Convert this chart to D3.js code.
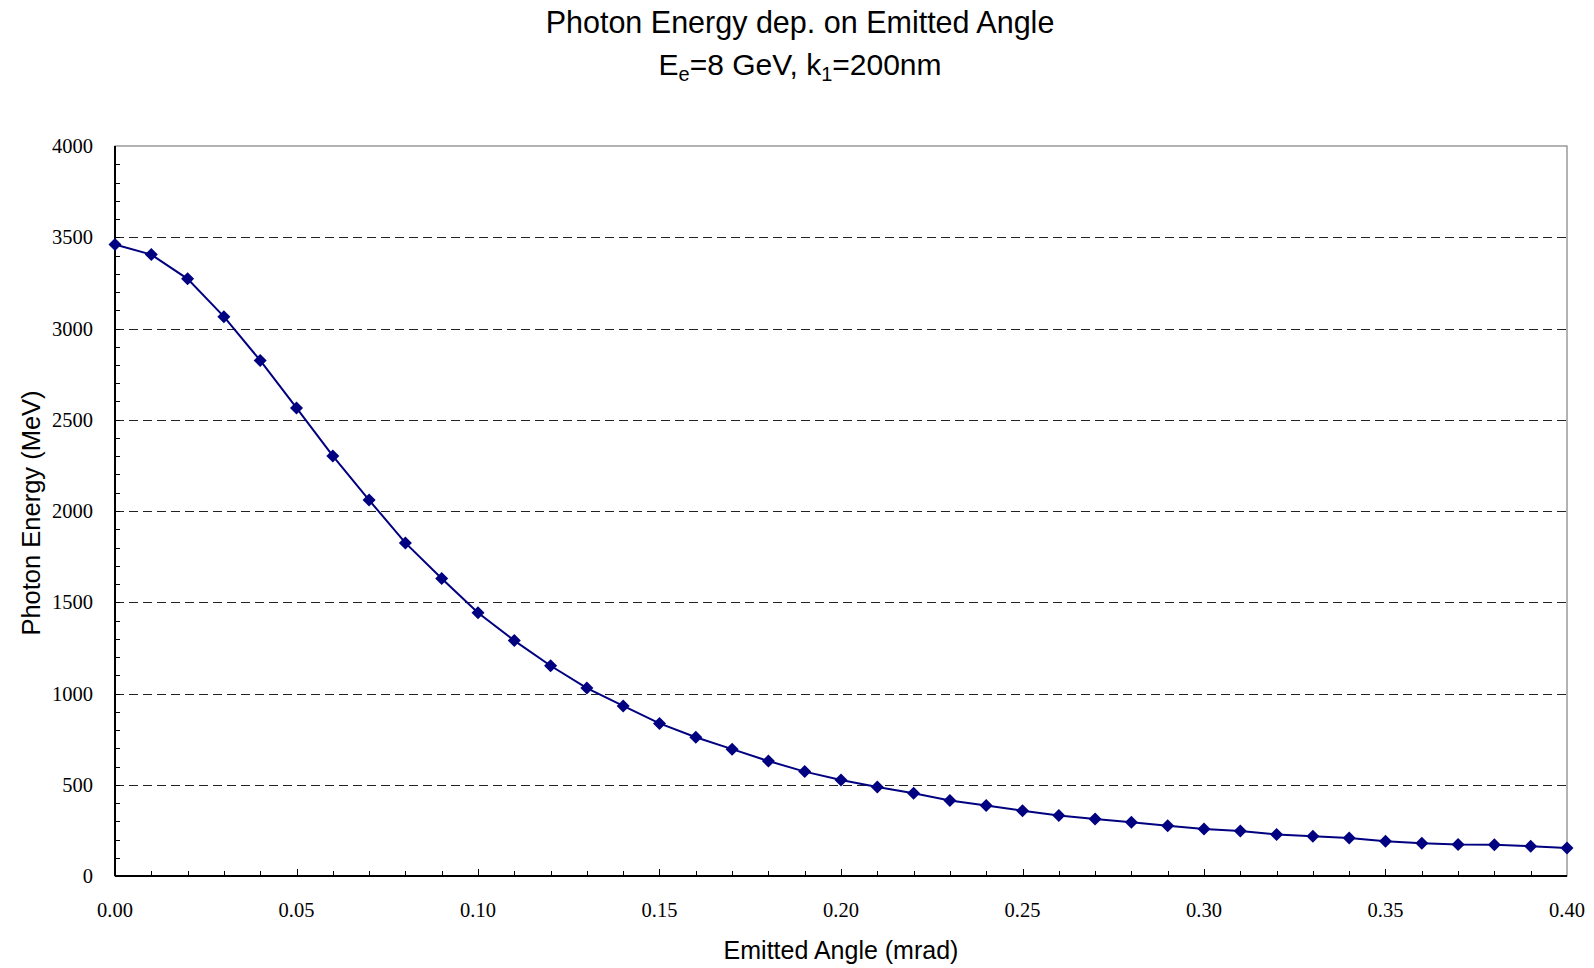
<!DOCTYPE html>
<html>
<head>
<meta charset="utf-8">
<script src="https://cdn.jsdelivr.net/npm/d3@7"></script>
<style>
  body { margin: 0; background: #fff; }
  svg { display: block; }
</style>
</head>
<body>
<div id="chart-area"></div>
<script>
// values
var angles = [0.00, 0.01, 0.02, 0.03, 0.04, 0.05, 0.06, 0.07, 0.08, 0.09,
              0.10, 0.11, 0.12, 0.13, 0.14, 0.15, 0.16, 0.17, 0.18, 0.19,
              0.20, 0.21, 0.22, 0.23, 0.24, 0.25, 0.26, 0.27, 0.28, 0.29,
              0.30, 0.31, 0.32, 0.33, 0.34, 0.35, 0.36, 0.37, 0.38, 0.39, 0.40];
var energy = [3460, 3405, 3272, 3065, 2825, 2565, 2302, 2060, 1825, 1630,
              1442, 1290, 1152, 1030, 932, 836, 760, 695, 630, 572,
              526, 488, 453, 414, 386, 358, 331, 312, 294, 275,
              258, 246, 228, 218, 208, 190, 180, 172, 171, 163, 153];
var yTicks = [0, 500, 1000, 1500, 2000, 2500, 3000, 3500, 4000];
var xTicks = [0.00, 0.05, 0.10, 0.15, 0.20, 0.25, 0.30, 0.35, 0.40];

var W = 1594, H = 968;
var margin = {top: 146, right: 27, bottom: 92, left: 115};
var width = W - margin.left - margin.right;
var height = H - margin.top - margin.bottom;

var svg = d3.select("#chart-area").append("svg")
	.attr("width", W)
	.attr("height", H);

// title
svg.append("text")
	.attr("x", 800)
	.attr("y", 33)
	.attr("text-anchor", "middle")
	.attr("font-family", "Liberation Sans, Arial, sans-serif")
	.attr("font-size", "30.5px")
	.style("fill", "black")
	.text("Photon Energy dep. on Emitted Angle");

var sub = svg.append("text")
	.attr("x", 800)
	.attr("y", 75)
	.attr("text-anchor", "middle")
	.attr("font-family", "Liberation Sans, Arial, sans-serif")
	.attr("font-size", "30px")
	.style("fill", "black");
sub.append("tspan").text("E");
sub.append("tspan").attr("font-size", "20px").attr("dy", 6).text("e");
sub.append("tspan").attr("dy", -6).text("=8 GeV, k");
sub.append("tspan").attr("font-size", "20px").attr("dy", 6).text("1");
sub.append("tspan").attr("dy", -6).text("=200nm");

var g = svg.append("g")
	.attr("transform", "translate(" + margin.left + ", " + margin.top + ")");

var x = d3.scaleLinear().domain([0, 0.4]).range([0, width]);
var y = d3.scaleLinear().domain([0, 4000]).range([height, 0]);

// frame (top/right)
g.append("rect")
	.attr("x", 0).attr("y", 0)
	.attr("width", width).attr("height", height)
	.attr("fill", "none")
	.attr("stroke", "#808080")
	.attr("stroke-width", 1.2);

// dashed gridlines
g.selectAll(".grid").data(yTicks.filter(function(d) { return d > 0 && d < 4000; }))
	.enter().append("line")
	.attr("class", "grid")
	.attr("x1", 0).attr("x2", width)
	.attr("y1", function(d) { return Math.round(y(d)) + 0.5; })
	.attr("y2", function(d) { return Math.round(y(d)) + 0.5; })
	.attr("stroke", "#222")
	.attr("stroke-width", 1)
	.attr("stroke-dasharray", "9,5");

// inner minor ticks
var yMinor = d3.range(100, 4000, 100);
g.selectAll(".ytick").data(yMinor)
	.enter().append("line")
	.attr("class", "ytick")
	.attr("x1", 0).attr("x2", 5)
	.attr("y1", function(d) { return Math.round(y(d)) + 0.5; })
	.attr("y2", function(d) { return Math.round(y(d)) + 0.5; })
	.attr("stroke", "#000")
	.attr("stroke-width", 1);

var xMinor = d3.range(1, 40, 1);
g.selectAll(".xtick").data(xMinor)
	.enter().append("line")
	.attr("class", "xtick")
	.attr("x1", function(d) { return Math.round(x(d / 100)) + 0.5; })
	.attr("x2", function(d) { return Math.round(x(d / 100)) + 0.5; })
	.attr("y1", height)
	.attr("y2", function(d) { return d % 5 === 0 ? height - 7 : height - 5; })
	.attr("stroke", "#000")
	.attr("stroke-width", 1);

// axis lines
g.append("line")
	.attr("x1", 0).attr("x2", 0)
	.attr("y1", 0).attr("y2", height)
	.attr("stroke", "#000").attr("stroke-width", 2);
g.append("line")
	.attr("x1", 0).attr("x2", width)
	.attr("y1", height).attr("y2", height)
	.attr("stroke", "#000").attr("stroke-width", 2);

// tick labels
g.selectAll(".ylab").data(yTicks)
	.enter().append("text")
	.attr("class", "ylab")
	.attr("x", -22)
	.attr("y", function(d) { return y(d); })
	.attr("dy", "0.35em")
	.attr("text-anchor", "end")
	.attr("font-family", "Liberation Serif, Times New Roman, serif")
	.attr("font-size", "20.5px")
	.style("fill", "black")
	.text(function(d) { return d; });

g.selectAll(".xlab").data(xTicks)
	.enter().append("text")
	.attr("class", "xlab")
	.attr("x", function(d) { return x(d); })
	.attr("y", height + 41)
	.attr("text-anchor", "middle")
	.attr("font-family", "Liberation Serif, Times New Roman, serif")
	.attr("font-size", "20.5px")
	.style("fill", "black")
	.text(function(d) { return d3.format(".2f")(d); });

// axis titles
g.append("text")
	.attr("x", width / 2)
	.attr("y", height + 83)
	.attr("text-anchor", "middle")
	.attr("font-family", "Liberation Sans, Arial, sans-serif")
	.attr("font-size", "25px")
	.style("fill", "black")
	.text("Emitted Angle (mrad)");

g.append("text")
	.attr("transform", "rotate(-90)")
	.attr("x", -(height / 2) - 2)
	.attr("y", -75)
	.attr("text-anchor", "middle")
	.attr("font-family", "Liberation Sans, Arial, sans-serif")
	.attr("font-size", "25.5px")
	.style("fill", "black")
	.text("Photon Energy (MeV)");

// series
var pts = angles.map(function(a, i) { return {a: a, e: energy[i]}; });

var line = d3.line()
	.x(function(d) { return x(d.a); })
	.y(function(d) { return y(d.e); });

g.append("path")
	.datum(pts)
	.attr("fill", "none")
	.attr("stroke", "#000080")
	.attr("stroke-width", 2)
	.attr("d", line);

g.selectAll(".pt").data(pts)
	.enter().append("path")
	.attr("class", "pt")
	.attr("transform", function(d) { return "translate(" + x(d.a) + "," + y(d.e) + ")"; })
	.attr("d", d3.symbol().type(d3.symbolDiamond2).size(108))
	.attr("fill", "#000080");
</script>
</body>
</html>
